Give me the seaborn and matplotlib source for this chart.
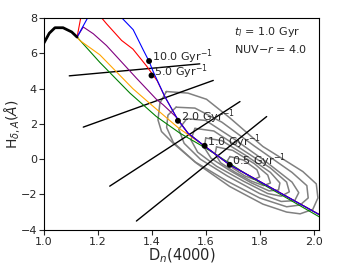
import numpy as np
import pandas as pd
import matplotlib
matplotlib.use("Agg")
import matplotlib.pyplot as plt
import seaborn as sns

# black starting track
start_x = [1.0, 1.02, 1.041, 1.071, 1.103, 1.123]
start_y = [6.59, 7.15, 7.46, 7.46, 7.22, 6.93]

# common tail of the coloured tracks
tail_x = [1.497, 1.534, 1.59, 1.689, 2.03]
tail_y = [2.23, 1.48, 0.81, -0.32, -3.22]

green_x = [1.123, 1.207, 1.319, 1.417, 1.504, 1.59, 1.655, 1.775, 1.9, 2.03]
green_y = [6.93, 5.5, 3.75, 2.42, 1.48, 0.72, 0.1, -1.1, -2.2, -3.35]

orange_x = [1.123, 1.133, 1.207, 1.33, 1.405, 1.50, 1.59, 1.689, 2.03]
orange_y = [6.93, 6.74, 5.93, 4.0, 3.0, 1.76, 0.81, -0.32, -3.22]

purple_x = [1.123, 1.146, 1.183, 1.232, 1.343, 1.417, 1.442, 1.49] + tail_x[1:]
purple_y = [6.93, 7.5, 7.12, 6.45, 4.6, 3.4, 3.09, 2.4] + tail_y[1:]

red_x = [1.123, 1.14, 1.16, 1.2, 1.215, 1.232, 1.288, 1.33, 1.38, 1.42, 1.448] + tail_x
red_y = [6.93, 8.3, 9.0, 9.0, 8.0, 7.69, 6.74, 6.25, 5.3, 4.45, 3.56] + tail_y

blue_x = [1.123, 1.164, 1.19, 1.27, 1.29, 1.331, 1.368, 1.39, 1.405, 1.448] + tail_x
blue_y = [6.93, 8.07, 9.0, 9.0, 8.0, 7.35, 6.21, 5.55, 4.98, 3.56] + tail_y

# SFR markers
pt_x = [1.39, 1.399, 1.497, 1.596, 1.689]
pt_y = [5.57, 4.75, 2.18, 0.76, -0.32]
pt_lab = ["10.0 Gyr$^{-1}$", "5.0 Gyr$^{-1}$", "2.0 Gyr$^{-1}$",
          "1.0 Gyr$^{-1}$", "0.5 Gyr$^{-1}$"]

# straight black lines (start, end)
seg_x = [(1.094, 1.578), (1.146, 1.628), (1.244, 1.727), (1.343, 1.826)]
seg_y = [(4.73, 5.41), (1.82, 4.47), (-1.53, 3.27), (-3.51, 2.42)]

# density contours of the galaxy sample (outer -> inner)
cont = [
    ([1.454, 1.534, 1.603, 1.689, 1.812, 1.96, 2.01, 2.016, 1.997, 1.95, 1.9, 1.812, 1.689, 1.566, 1.479, 1.436, 1.423, 1.43, 1.454],
     [3.84, 3.75, 3.40, 2.35, 0.72, -0.7, -1.4, -2.2, -2.85, -3.1, -3.0, -2.55, -1.55, -0.23, 0.91, 1.57, 2.23, 3.18, 3.84]),
    ([1.49, 1.56, 1.66, 1.78, 1.92, 1.975, 1.98, 1.95, 1.9, 1.8, 1.68, 1.56, 1.48, 1.455, 1.46, 1.49],
     [2.95, 2.9, 2.1, 0.75, -0.75, -1.5, -2.2, -2.6, -2.7, -2.2, -1.25, -0.15, 0.95, 1.8, 2.5, 2.95]),
    ([1.53, 1.6, 1.7, 1.82, 1.92, 1.945, 1.93, 1.88, 1.8, 1.68, 1.58, 1.52, 1.5, 1.53],
     [2.3, 2.2, 1.2, -0.1, -1.3, -1.9, -2.35, -2.4, -1.95, -0.95, 0.0, 0.9, 1.7, 2.3]),
    ([1.56, 1.63, 1.73, 1.84, 1.9, 1.91, 1.88, 1.83, 1.74, 1.64, 1.57, 1.545, 1.56],
     [1.75, 1.6, 0.6, -0.5, -1.3, -1.85, -2.1, -1.95, -1.25, -0.4, 0.4, 1.1, 1.75]),
    ([1.6, 1.66, 1.75, 1.84, 1.875, 1.87, 1.835, 1.77, 1.69, 1.62, 1.595, 1.6],
     [1.2, 1.05, 0.2, -0.75, -1.35, -1.75, -1.8, -1.35, -0.65, 0.05, 0.65, 1.2]),
    ([1.64, 1.7, 1.78, 1.83, 1.84, 1.815, 1.77, 1.71, 1.655, 1.635, 1.64],
     [0.7, 0.5, -0.25, -0.9, -1.35, -1.5, -1.25, -0.75, -0.2, 0.3, 0.7]),
    ([1.69, 1.74, 1.79, 1.8, 1.78, 1.745, 1.7, 1.68, 1.69],
     [0.15, -0.05, -0.6, -1.0, -1.15, -0.95, -0.5, -0.1, 0.15]),
]

sns.set_style("ticks")

fig = plt.figure(figsize=(3.43, 2.64), dpi=100)
ax = fig.add_axes([0.128, 0.130, 0.802, 0.801])


def draw(x, y, **kw):
    sns.lineplot(x=x, y=y, sort=False, estimator=None, errorbar=None, ax=ax, **kw)


for cx, cy in cont:
    draw(cx, cy, color="grey", lw=1.1)

for sx, sy in zip(seg_x, seg_y):
    draw(list(sx), list(sy), color="black", lw=1.0)

tracks = [(green_x, green_y, "green"), (orange_x, orange_y, "orange"),
          (purple_x, purple_y, "purple"), (red_x, red_y, "red"),
          (blue_x, blue_y, "blue")]
for tx, ty, c in tracks:
    draw(tx, ty, color=c, lw=0.8)

draw(start_x, start_y, color="black", lw=2.0)

sns.scatterplot(x=pt_x, y=pt_y, color="black", s=18, edgecolor="none", zorder=5, ax=ax)
for x, y, lab in zip(pt_x, pt_y, pt_lab):
    ax.text(x + 0.01, y, lab, fontsize=8)

ax.text(0.69, 0.937, r"$t_l$ = 1.0 Gyr", transform=ax.transAxes, va="center", fontsize=8)
ax.text(0.69, 0.853, r"NUV$-r$ = 4.0", transform=ax.transAxes, va="center", fontsize=8)

ax.set_xlim(1.0, 2.02)
ax.set_ylim(-4, 8)
ax.set_xticks([1.0, 1.2, 1.4, 1.6, 1.8, 2.0])
ax.set_yticks([-4, -2, 0, 2, 4, 6, 8])
ax.tick_params(labelsize=8, length=3.5, width=0.8, direction="out", pad=1.5)
ax.set_xlabel("D$_n$(4000)", fontsize=10.5, labelpad=0)
ax.set_ylabel(r"H$_{\delta,A}$($\AA$)", fontsize=10, labelpad=-1)
for sp in ax.spines.values():
    sp.set_linewidth(0.8)
    sp.set_color("black")

fig.savefig("out.png", dpi=100)
